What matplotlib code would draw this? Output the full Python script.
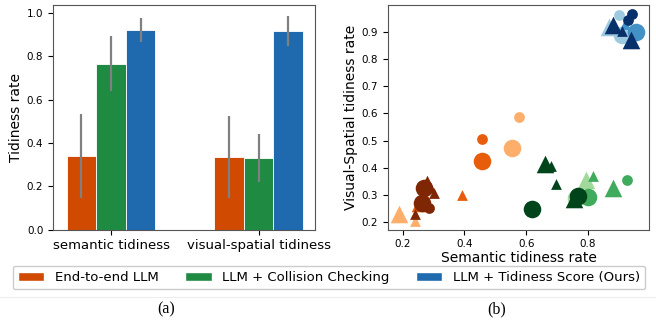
import matplotlib
matplotlib.use("Agg")
import matplotlib.pyplot as plt
from matplotlib.patches import Patch
import numpy as np

# ---------------- data: bar chart ----------------
metrics = ["semantic tidiness", "visual-spatial tidiness"]
methods = ["End-to-end LLM", "LLM + Collision Checking", "LLM + Tidiness Score (Ours)"]
bar_means = {
    "End-to-end LLM": [0.340, 0.335],
    "LLM + Collision Checking": [0.765, 0.330],
    "LLM + Tidiness Score (Ours)": [0.922, 0.917],
}
bar_err_low = {
    "End-to-end LLM": [0.145, 0.145],
    "LLM + Collision Checking": [0.640, 0.220],
    "LLM + Tidiness Score (Ours)": [0.865, 0.850],
}
bar_err_high = {
    "End-to-end LLM": [0.535, 0.525],
    "LLM + Collision Checking": [0.895, 0.440],
    "LLM + Tidiness Score (Ours)": [0.980, 0.985],
}

# ---------------- data: scatter ----------------
# method index, shade (0 light,1 mid,2 dark), shape, size class
sc_method = [0]*12 + [1]*13 + [2]*11
sc_shade = [0, 0, 0, 0, 1, 1, 1, 1, 2, 2, 2, 2,
            0, 0, 1, 1, 1, 1, 2, 2, 2, 2, 2, 2, 2,
            0, 0, 0, 0, 1, 1, 2, 2, 2, 2, 2]
sc_shape = ["^", "^", "o", "o", "o", "o", "^", "^", "o", "^", "^", "o",
            "^", "o", "^", "^", "o", "o", "o", "^", "^", "^", "o", "^", "^",
            "^", "o", "o", "^", "o", "^", "^", "o", "o", "^", "^"]
sc_size = ["L", "S", "S", "L", "S", "L", "S", "L", "L", "L", "S", "S",
           "L", "L", "S", "L", "S", "L", "L", "L", "S", "S", "L", "L", "S",
           "L", "L", "S", "S", "L", "S", "L", "S", "S", "L", "S"]
sc_x = [0.190, 0.240, 0.575, 0.553, 0.456, 0.456, 0.392, 0.255, 0.268, 0.279, 0.302, 0.284,
        0.794, 0.760, 0.817, 0.882, 0.927, 0.801, 0.618, 0.661, 0.680, 0.697, 0.769, 0.753, 0.750,
        0.869, 0.910, 0.901, 0.930, 0.955, 0.920, 0.882, 0.941, 0.930, 0.938, 0.910]
sc_y = [0.231, 0.203, 0.587, 0.473, 0.506, 0.426, 0.299, 0.270, 0.326, 0.338, 0.305, 0.252,
        0.356, 0.290, 0.369, 0.326, 0.356, 0.293, 0.246, 0.415, 0.408, 0.338, 0.295, 0.283, 0.275,
        0.920, 0.890, 0.964, 0.860, 0.900, 0.930, 0.927, 0.967, 0.945, 0.872, 0.905]
# extra dark-brown shapes mostly hidden in the cluster
sc_extra = [(0.263, 0.270, 2, "o", "L"), (0.239, 0.228, 2, "^", "S")]

bar_colors = ["#d04a02", "#1f8a42", "#1f6aae"]
shade_colors = [
    ["#fdae6b", "#e85d0c", "#7f2704"],
    ["#a1d99b", "#41ab5d", "#00441b"],
    ["#9ecae1", "#4292c6", "#08306b"],
]
size_map = {"L": 160, "S": 60}

W, H = 656, 322
fig = plt.figure(figsize=(W/100, H/100), dpi=100)
tick_fs = 7.5

# ---------------- bar chart ----------------
ax1 = fig.add_axes([53/W, 1-229.5/H, (315-53)/W, (229.5-5)/H])
x = np.arange(len(metrics))
bw = 0.2
for i, m in enumerate(methods):
    pos = x + (i-1)*bw
    means = np.array(bar_means[m])
    lo = means - np.array(bar_err_low[m])
    hi = np.array(bar_err_high[m]) - means
    ax1.bar(pos, means, width=bw, color=bar_colors[i], edgecolor="white", linewidth=0.6)
    ax1.errorbar(pos, means, yerr=[lo, hi], fmt="none", ecolor="#808080", elinewidth=1.6, capsize=0)
ax1.set_xlim(-0.393, 1.382)
ax1.set_ylim(0, 1.038)
ax1.set_xticks(x)
ax1.set_xticklabels(metrics, fontsize=9.5)
ax1.set_yticks(np.arange(0, 1.01, 0.2))
ax1.tick_params(axis="y", labelsize=tick_fs)
ax1.set_ylabel("Tidiness rate", fontsize=10, labelpad=3)

# ---------------- scatter ----------------
ax2 = fig.add_axes([388/W, 1-229.5/H, (649-388)/W, (229.5-5)/H])
pts = list(zip(sc_x, sc_y, sc_method, sc_shade, sc_shape, sc_size))
for (xx, yy, sh, mk, sz) in sc_extra:
    pts.append((xx, yy, 0, sh, mk, sz))
order = sorted(range(len(pts)), key=lambda k: (pts[k][2], pts[k][3]))
for k in order:
    xx, yy, me, sh, mk, sz = pts[k]
    ax2.scatter(xx, yy, s=size_map[sz], marker=mk, color=shade_colors[me][sh],
                linewidths=0, zorder=2)
ax2.set_xlim(0.153, 0.997)
ax2.set_ylim(0.172, 1.0)
ax2.set_xticks([0.2, 0.4, 0.6, 0.8])
ax2.set_yticks([0.2, 0.3, 0.4, 0.5, 0.6, 0.7, 0.8, 0.9])
ax2.tick_params(labelsize=tick_fs)
ax2.set_xlabel("Semantic tidiness rate", fontsize=10, labelpad=1)
ax2.set_ylabel("Visual-Spatial tidiness rate", fontsize=10, labelpad=3)

for ax in (ax1, ax2):
    for s in ax.spines.values():
        s.set_color("#555555")

# ---------------- legend ----------------
handles = [Patch(facecolor=c, edgecolor="white") for c in bar_colors]
leg = fig.legend(handles, methods, loc="center", bbox_to_anchor=(329/W, 1-277.5/H),
                 ncol=3, fontsize=9.5, frameon=True, fancybox=True)
leg.get_frame().set_edgecolor("#cccccc")
leg.get_frame().set_alpha(1.0)

fig.add_artist(plt.Line2D([0, 1], [1-297/H, 1-297/H], color="#eeeeee", lw=0.8))
fig.text(166/W, 1-309/H, "(a)", ha="center", va="center", fontsize=11.5, family="Liberation Serif")
fig.text(497/W, 1-309/H, "(b)", ha="center", va="center", fontsize=11.5, family="Liberation Serif")

fig.savefig("out.png", dpi=100)
